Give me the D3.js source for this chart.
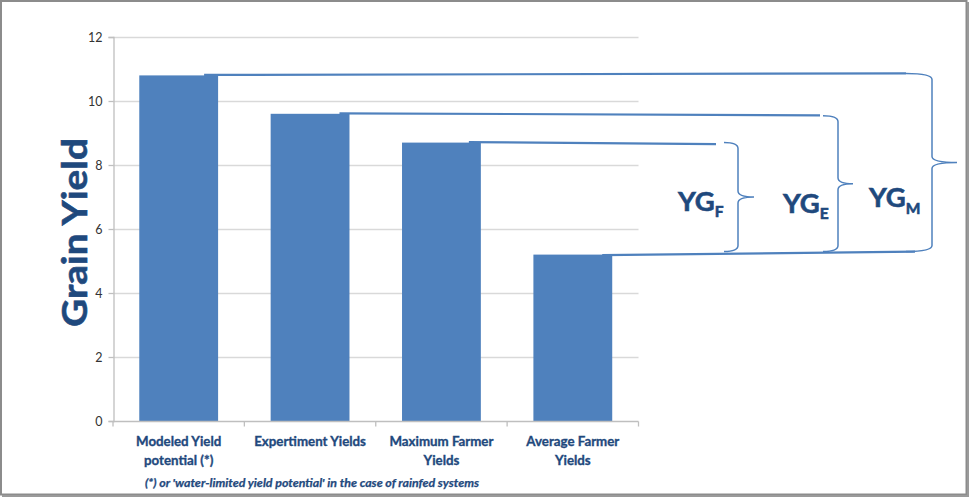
<!DOCTYPE html>
<html>
<head>
<meta charset="utf-8">
<script src="https://cdn.jsdelivr.net/npm/d3@7/dist/d3.min.js"></script>
<style>
  html, body { margin: 0; padding: 0; background: #fff; }
  svg { display: block; }
</style>
</head>
<body>
<svg id="chart" width="969" height="497"></svg>
<script>
// ---- data ----
const categories = ["Modeled Yield potential (*)", "Expertiment Yields", "Maximum Farmer Yields", "Average Farmer Yields"];
const categoryLines = [["Modeled Yield", "potential (*)"], ["Expertiment Yields"], ["Maximum Farmer", "Yields"], ["Average Farmer", "Yields"]];
const values = [10.8, 9.6, 8.7, 5.2];
const yTicks = [0, 2, 4, 6, 8, 10, 12];
const yTitle = "Grain Yield";
const footnote = "(*) or 'water-limited yield potential' in the case of rainfed systems";
const gapLabels = ["YG", "YG", "YG"];
const gapSubs = ["F", "E", "M"];
const gapFrom = [2, 1, 0];   // upper category index of each yield gap
const gapTo = [3, 3, 3];     // lower category index

// ---- layout ----
const svg = d3.select("#chart");
const W = 969, H = 497;
const pLeft = 113, pRight = 638.5, pTop = 37, pBottom = 421;
const blue = "#4F81BD", dark = "#1F497D";
const font = "Lato, 'Open Sans', sans-serif";

const x = d3.scaleBand().domain(categories).range([pLeft, pRight]).paddingInner(0.4).paddingOuter(0.2);
const y = d3.scaleLinear().domain([0, 12]).range([pBottom, pTop]);

// frame
svg.append("rect").attr("x", 1).attr("y", 1).attr("width", W - 3.5).attr("height", H - 3.5)
  .attr("fill", "#fff").attr("stroke", "#8c8c8c").attr("stroke-width", 2);
svg.append("line").attr("x1", W - 1).attr("x2", W - 1).attr("y1", 2).attr("y2", H)
  .attr("stroke", "#9a9a9a").attr("stroke-width", 2);
svg.append("line").attr("x1", 2).attr("x2", W).attr("y1", H - 1).attr("y2", H - 1)
  .attr("stroke", "#9a9a9a").attr("stroke-width", 2);

// gridlines
svg.append("g").selectAll("line").data(yTicks.filter(d => d > 0)).join("line")
  .attr("x1", pLeft).attr("x2", pRight)
  .attr("y1", d => Math.round(y(d)) + 0.5).attr("y2", d => Math.round(y(d)) + 0.5)
  .attr("stroke", "#d9d9d9").attr("stroke-width", 1.3);

// y axis
const yAxis = svg.append("g").attr("transform", `translate(${pLeft + 0.5},0)`)
  .call(d3.axisLeft(y).tickValues(yTicks).tickSize(5).tickPadding(6));
yAxis.select(".domain").attr("stroke", "#bfbfbf").attr("stroke-width", 1.3);
yAxis.selectAll(".tick line").attr("stroke", "#bfbfbf").attr("stroke-width", 1.3);
yAxis.selectAll(".tick text").attr("fill", "#333").style("font-family", font).style("font-size", "12.5px");

// bars
svg.append("g").selectAll("rect").data(values).join("rect")
  .attr("x", (d, i) => x(categories[i]))
  .attr("y", d => y(d))
  .attr("width", x.bandwidth())
  .attr("height", d => y(0) - y(d))
  .attr("fill", blue);

// x axis
const step = x.step();
const xb = svg.append("g").attr("transform", `translate(0,${pBottom + 0.5})`);
xb.append("line").attr("x1", pLeft).attr("x2", pRight).attr("stroke", "#bfbfbf").attr("stroke-width", 1.3);
const xTickPos = d3.range(categories.length + 1).map(i => pLeft + i * step);
xb.selectAll("line.t").data(xTickPos).join("line").attr("class", "t")
  .attr("x1", d => d).attr("x2", d => d).attr("y1", 0).attr("y2", 5)
  .attr("stroke", "#bfbfbf").attr("stroke-width", 1.3);

// category labels
const cl = svg.append("g");
categoryLines.forEach((lines, i) => {
  const cx = x(categories[i]) + x.bandwidth() / 2;
  const t = cl.append("text").attr("text-anchor", "middle")
    .attr("fill", dark).attr("stroke", dark).attr("stroke-width", 0.35)
    .style("font-family", font).style("font-weight", "bold").style("font-size", "13.3px");
  lines.forEach((ln, j) => {
    t.append("tspan").attr("x", cx).attr("y", 446 + j * 18.5).text(ln);
  });
});

// footnote
svg.append("text").attr("x", 145).attr("y", 487)
  .attr("textLength", 334).attr("lengthAdjust", "spacingAndGlyphs")
  .attr("fill", dark).attr("stroke", dark).attr("stroke-width", 0.25)
  .style("font-family", font).style("font-weight", "bold")
  .style("font-style", "italic").style("font-size", "11px").text(footnote);

// y title
svg.append("text").attr("transform", "translate(87,232.5) rotate(-90)")
  .attr("text-anchor", "middle").attr("textLength", 189).attr("lengthAdjust", "spacingAndGlyphs")
  .attr("fill", dark).attr("stroke", dark).attr("stroke-width", 0.6)
  .style("font-family", font).style("font-weight", "bold").style("font-size", "33.5px")
  .text(yTitle);

// ---- yield gap connectors ----
const barRight = i => x(categories[i]) + x.bandwidth();
const braceX0 = [724, 823, 906];
const braceXV = [738, 838, 932];
const braceXT = [754, 853, 957];
const lineStart = [barRight(2) - 12, barRight(1) - 10, barRight(0) - 14];
const lineEnd = [716, 820, 906];
const conn = svg.append("g").attr("fill", "none").attr("stroke", blue);

// horizontal lines from bar tops
gapFrom.forEach((ci, k) => {
  const yy = y(values[ci]) - 0.5;
  conn.append("line").attr("x1", lineStart[k]).attr("x2", lineEnd[k])
    .attr("y1", yy).attr("y2", yy + (k === 2 ? -1.5 : 2))
    .attr("stroke-width", 2.2);
});
// bottom line from the lowest bar
const yLow = y(values[3]);
conn.append("line").attr("x1", barRight(3) - 10).attr("x2", 915)
  .attr("y1", yLow + 0.5).attr("y2", yLow - 3).attr("stroke-width", 2.2);

// braces
function bracePath(x0, yt, yb, xv, xt) {
  const ym = (yt + yb) / 2, r = 6;
  return `M${x0},${yt} Q${xv},${yt} ${xv},${yt + r} L${xv},${ym - r} Q${xv},${ym} ${xt},${ym}` +
         ` Q${xv},${ym} ${xv},${ym + r} L${xv},${yb - r} Q${xv},${yb} ${x0},${yb}`;
}
gapFrom.forEach((ci, k) => {
  const yt = y(values[ci]) + (k === 1 ? 2 : 0) - (k === 2 ? 2 : 0);
  const yb = y(values[gapTo[k]]) - 3;
  conn.append("path").attr("d", bracePath(braceX0[k], yt, yb, braceXV[k], braceXT[k]))
    .attr("stroke-width", 1.5);
});

// gap labels
const labX = [678, 783, 869];
const labY = [211, 213, 207];
const subDy = [6, 6, 7];
gapLabels.forEach((lab, k) => {
  const t = svg.append("text").attr("x", labX[k]).attr("y", labY[k])
    .attr("fill", dark).attr("stroke", dark).attr("stroke-width", 0.6)
    .style("font-family", font).style("font-weight", "bold");
  t.append("tspan").style("font-size", "27.5px").text(lab);
  t.append("tspan").attr("dy", subDy[k]).style("font-size", "15.5px").text(gapSubs[k]);
});
</script>
</body>
</html>
